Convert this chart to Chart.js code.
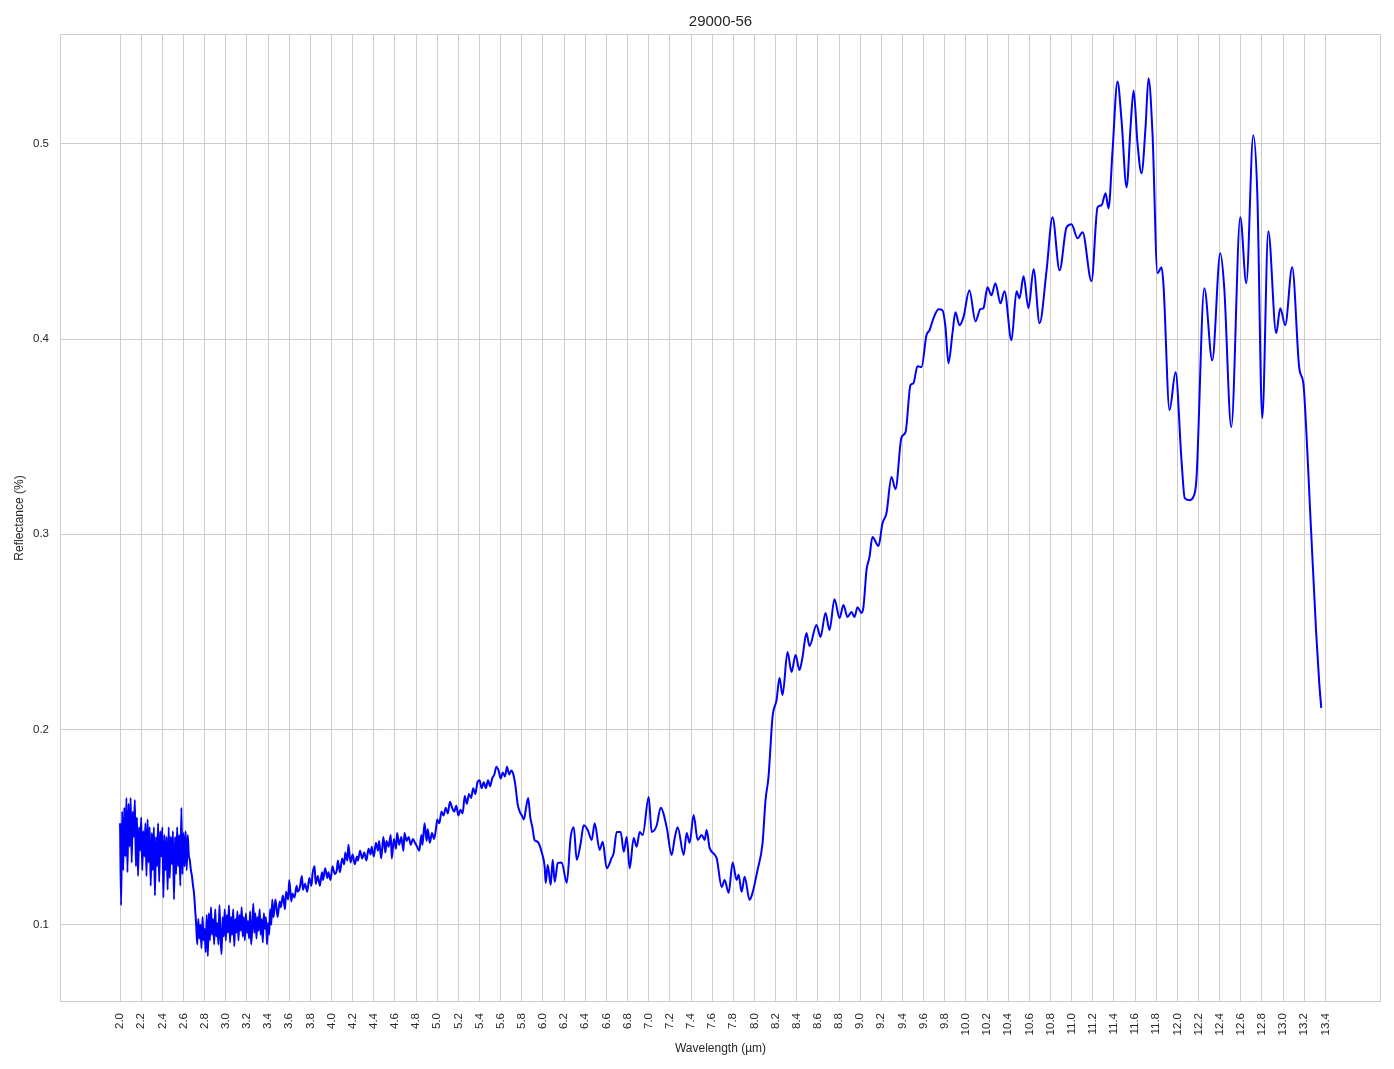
<!DOCTYPE html>
<html>
<head>
<meta charset="utf-8">
<script src="https://cdn.jsdelivr.net/npm/chart.js@4/dist/chart.umd.min.js"></script>
<style>
  html, body { margin: 0; padding: 0; background: #ffffff; }
  #wrap { width: 1394px; height: 1069px; }
</style>
</head>
<body>
<div id="wrap"><canvas id="chart" width="1394" height="1069"></canvas></div>
<script>
// [wavelength µm, reflectance]
let shortwave = [
    [2.00,0.152],[2.01,0.110],[2.02,0.158],[2.03,0.128],[2.04,0.160],[2.05,0.135],[2.06,0.165],[2.07,0.127],[2.08,0.162],[2.09,0.140],
    [2.10,0.165],[2.11,0.132],[2.12,0.158],[2.13,0.145],[2.14,0.164],[2.15,0.130],[2.16,0.155],[2.17,0.125],[2.18,0.150],[2.19,0.138],
    [2.20,0.155],[2.21,0.128],[2.22,0.148],[2.23,0.135],[2.24,0.152],[2.25,0.125],[2.26,0.154],[2.27,0.132],[2.28,0.150],[2.29,0.120],
    [2.30,0.147],[2.31,0.128],[2.32,0.150],[2.33,0.115],[2.34,0.145],[2.35,0.130],[2.36,0.152],[2.37,0.122],[2.38,0.148],[2.39,0.135],
    [2.40,0.150],[2.41,0.114],[2.42,0.146],[2.43,0.128],[2.44,0.145],[2.45,0.118],[2.46,0.150],[2.47,0.124],[2.48,0.145],[2.49,0.131],
    [2.50,0.148],[2.51,0.113],[2.52,0.145],[2.53,0.126],[2.54,0.150],[2.55,0.130],[2.56,0.146],[2.57,0.120],[2.58,0.160],[2.59,0.126],
    [2.60,0.147],[2.61,0.130],[2.62,0.148],[2.63,0.128],[2.64,0.146],[2.65,0.136],[2.66,0.133],[2.67,0.128],[2.68,0.125],[2.69,0.120],
    [2.70,0.116],[2.71,0.108],[2.72,0.100],
    [2.73,0.090],[2.74,0.103],[2.75,0.093],[2.76,0.100],[2.77,0.088],[2.78,0.104],[2.79,0.092],[2.80,0.098],[2.81,0.086],[2.82,0.105],
    [2.83,0.084],[2.84,0.106],[2.85,0.092],[2.86,0.109],[2.87,0.095],[2.88,0.103],[2.89,0.090],[2.90,0.108],[2.91,0.094],[2.92,0.101],
    [2.93,0.090],[2.94,0.110],[2.95,0.093],[2.96,0.085],[2.97,0.104],[2.98,0.094],[2.99,0.108],[3.00,0.092],[3.01,0.105],[3.02,0.096],
    [3.03,0.110],[3.04,0.091],[3.05,0.104],[3.06,0.095],[3.07,0.108],[3.08,0.089],[3.09,0.103],[3.10,0.096],[3.11,0.107],[3.12,0.092],
    [3.13,0.105],[3.14,0.097],[3.15,0.109],[3.16,0.094],[3.17,0.104],[3.18,0.092],[3.19,0.106],[3.20,0.096],[3.21,0.102],[3.22,0.093],
    [3.23,0.107],[3.24,0.090],[3.25,0.098],[3.26,0.111],[3.27,0.096],[3.28,0.106],[3.29,0.093],[3.30,0.104],[3.31,0.097],[3.32,0.108],
    [3.33,0.095],[3.34,0.103],[3.35,0.091],[3.36,0.106],[3.37,0.098],[3.38,0.104],[3.39,0.090],[3.40,0.101],[3.41,0.095],[3.42,0.108],
    [3.43,0.100],[3.44,0.113],[3.45,0.104]
];

let midwave = [
    [3.46,0.108],[3.47,0.113],[3.49,0.104],[3.51,0.112],[3.52,0.109],[3.54,0.115],[3.56,0.108],[3.57,0.117],[3.59,0.113],[3.60,0.123],
    [3.62,0.112],[3.63,0.116],[3.65,0.114],[3.67,0.120],[3.68,0.117],[3.70,0.119],[3.72,0.125],[3.73,0.118],[3.75,0.121],[3.77,0.117],
    [3.79,0.124],[3.81,0.120],[3.82,0.126],[3.84,0.130],[3.85,0.121],[3.87,0.125],[3.89,0.120],[3.91,0.127],[3.92,0.123],[3.94,0.129],
    [3.96,0.124],[3.97,0.127],[3.99,0.123],[4.01,0.130],[4.03,0.126],[4.05,0.128],[4.06,0.133],[4.08,0.127],[4.10,0.134],[4.12,0.131],
    [4.13,0.137],[4.15,0.133],[4.16,0.141],[4.18,0.132],[4.20,0.136],[4.22,0.131],[4.24,0.135],[4.25,0.133],[4.27,0.138],[4.29,0.134],
    [4.31,0.137],[4.33,0.133],[4.35,0.139],[4.37,0.136],[4.38,0.140],[4.40,0.135],[4.42,0.142],[4.44,0.138],[4.45,0.143],[4.47,0.134],
    [4.49,0.145],[4.51,0.137],[4.52,0.143],[4.54,0.140],[4.56,0.146],[4.57,0.134],[4.59,0.144],[4.61,0.139],[4.62,0.147],[4.64,0.141],
    [4.66,0.145],[4.68,0.138],[4.69,0.147],[4.71,0.143],[4.73,0.145],[4.75,0.141],[4.77,0.144],[4.79,0.142],[4.81,0.140],[4.83,0.138],
    [4.85,0.146],[4.86,0.141],[4.88,0.152],[4.90,0.143],[4.91,0.149],[4.93,0.142],[4.95,0.147],[4.97,0.144],[4.99,0.150],[5.00,0.154],
    [5.02,0.152],[5.04,0.158],[5.06,0.156],[5.08,0.160],[5.10,0.157],[5.12,0.163],[5.14,0.160],[5.16,0.158],[5.18,0.161],[5.20,0.156],
    [5.22,0.159],[5.24,0.157],[5.26,0.166],[5.28,0.162],[5.30,0.167],[5.32,0.165],[5.34,0.170],[5.36,0.167],[5.38,0.173],[5.40,0.174],
    [5.42,0.170],[5.44,0.173],[5.46,0.170],[5.48,0.174],[5.50,0.171],[5.52,0.175],[5.54,0.177],[5.56,0.181],[5.58,0.179],[5.60,0.175],
    [5.62,0.178],[5.64,0.176],[5.66,0.181],[5.68,0.177],[5.70,0.179],[5.72,0.177],[5.74,0.171],[5.76,0.162],[5.78,0.158],[5.80,0.156],
    [5.82,0.154],[5.84,0.160],[5.86,0.165],[5.88,0.155],[5.90,0.150]
];

let longwave = [
    [5.92,0.1435],[5.95,0.1425],[5.99,0.1368],[6.016,0.1297],[6.026,0.1215],[6.045,0.1307],[6.073,0.1205],[6.092,0.1333],[6.111,0.122],[6.14,0.1317],
    [6.177,0.132],[6.225,0.1215],[6.262,0.145],[6.291,0.150],[6.319,0.1333],[6.357,0.142],[6.385,0.151],[6.423,0.1486],[6.461,0.1435],[6.489,0.152],
    [6.536,0.1384],[6.565,0.1425],[6.603,0.129],[6.65,0.1343],[6.669,0.1368],[6.697,0.1476],[6.735,0.1476],[6.764,0.1374],[6.792,0.145],[6.82,0.129],
    [6.858,0.1445],[6.886,0.140],[6.915,0.1476],[6.943,0.146],[7.0,0.1655],[7.028,0.1476],[7.076,0.151],[7.113,0.160],[7.17,0.150],[7.217,0.1358],
    [7.246,0.1445],[7.274,0.150],[7.331,0.1358],[7.359,0.147],[7.387,0.142],[7.425,0.1563],[7.463,0.1435],[7.501,0.146],[7.529,0.1435],[7.548,0.1486],
    [7.576,0.1394],[7.642,0.1343],[7.69,0.1194],[7.718,0.123],[7.756,0.1164],[7.794,0.132],[7.831,0.123],[7.85,0.1256],[7.879,0.1169],[7.907,0.1246],
    [7.954,0.1128],[7.982,0.1164],[8.029,0.128],[8.077,0.142],[8.105,0.164],[8.133,0.1757],[8.171,0.2064],[8.209,0.2151],[8.237,0.2264],[8.266,0.2177],
    [8.313,0.2397],[8.351,0.2295],[8.389,0.2382],[8.426,0.2305],[8.455,0.2372],[8.492,0.2494],[8.521,0.2428],[8.587,0.2535],[8.625,0.2474],[8.672,0.2597],
    [8.71,0.251],[8.757,0.2668],[8.805,0.2571],[8.842,0.2638],[8.88,0.2576],[8.918,0.2602],[8.946,0.2576],[8.975,0.2627],[9.013,0.2597],[9.031,0.2627],
    [9.06,0.2817],[9.088,0.2883],[9.116,0.2986],[9.173,0.294],[9.211,0.3057],[9.249,0.3109],[9.296,0.3293],[9.334,0.3231],[9.391,0.3497],[9.429,0.3523],
    [9.476,0.3764],[9.504,0.3774],[9.542,0.3861],[9.58,0.3856],[9.627,0.4019],[9.656,0.4045],[9.693,0.4106],[9.741,0.4153],[9.778,0.4147],[9.807,0.406],
    [9.835,0.3876],[9.873,0.403],[9.901,0.4137],[9.939,0.4071],[9.977,0.4112],[10.033,0.425],[10.09,0.4091],[10.137,0.4153],[10.166,0.4158],[10.204,0.4265],
    [10.241,0.4224],[10.279,0.4286],[10.327,0.4183],[10.365,0.4245],[10.431,0.3994],[10.479,0.4245],[10.507,0.4209],[10.545,0.4321],[10.592,0.4158],[10.64,0.4357],
    [10.697,0.4081],[10.763,0.4352],[10.819,0.4623],[10.886,0.4352],[10.952,0.4572],[10.999,0.4588],[11.056,0.4516],[11.103,0.4547],[11.188,0.4296],[11.245,0.4674],
    [11.283,0.4685],[11.321,0.4746],[11.349,0.4669],[11.387,0.4966],[11.434,0.5319],[11.472,0.512],[11.52,0.4777],[11.557,0.5084],[11.586,0.5273],[11.623,0.5002],
    [11.661,0.4849],[11.699,0.5084],[11.727,0.5335],[11.765,0.505],[11.812,0.4337],[11.85,0.4367],[11.869,0.4275],[11.926,0.3636],[11.983,0.383],[12.039,0.338],
    [12.07,0.3185],[12.115,0.3175],[12.15,0.319],[12.18,0.328],[12.255,0.426],[12.33,0.3891],[12.406,0.4439],[12.443,0.4265],[12.51,0.3549],[12.595,0.4623],
    [12.652,0.4286],[12.718,0.5043],[12.756,0.4746],[12.803,0.3595],[12.86,0.4552],[12.935,0.403],[12.973,0.4158],[13.02,0.4071],[13.086,0.4367],[13.152,0.3856],
    [13.19,0.3779],[13.2,0.372],[13.266,0.3006],[13.313,0.2494],[13.342,0.2238],[13.361,0.2111]
];

let xTicks = [2.0, 2.2, 2.4, 2.6, 2.8, 3.0, 3.2, 3.4, 3.6, 3.8, 4.0, 4.2, 4.4, 4.6, 4.8, 5.0, 5.2, 5.4, 5.6, 5.8,
    6.0, 6.2, 6.4, 6.6, 6.8, 7.0, 7.2, 7.4, 7.6, 7.8, 8.0, 8.2, 8.4, 8.6, 8.8, 9.0, 9.2, 9.4, 9.6, 9.8,
    10.0, 10.2, 10.4, 10.6, 10.8, 11.0, 11.2, 11.4, 11.6, 11.8, 12.0, 12.2, 12.4, 12.6, 12.8, 13.0, 13.2, 13.4];
let yTicks = [0.1, 0.2, 0.3, 0.4, 0.5];

let textColor = "#262626";
let gridColor = "#cccccc";
let fontFamily = "'Liberation Sans', Arial, sans-serif";

let spectrum = shortwave.concat(midwave, longwave).map(p => ({ x: p[0], y: p[1] }));

// matplotlib-like box around the plot area
let frame = {
    id: "frame",
    beforeDatasetsDraw(chart) {
        let a = chart.chartArea;
        let ctx = chart.ctx;
        ctx.save();
        ctx.strokeStyle = gridColor;
        ctx.lineWidth = 1;
        ctx.strokeRect(Math.round(a.left) + 0.5, Math.round(a.top) + 0.5,
            Math.round(a.right - a.left) - 1, Math.round(a.bottom - a.top) - 1);
        ctx.restore();
    }
};

let chart = new Chart(document.getElementById("chart").getContext("2d"), {
    type: "line",
    data: {
        datasets: [{
            label: "29000-56",
            data: spectrum,
            borderColor: "#0000ff",
            backgroundColor: "#0000ff",
            borderWidth: 2,
            pointRadius: 0,
            cubicInterpolationMode: "monotone",
            fill: false
        }]
    },
    options: {
        responsive: false,
        animation: false,
        events: [],
        layout: { padding: { left: 0, right: 13, top: 0, bottom: 0 } },
        plugins: {
            legend: { display: false },
            tooltip: { enabled: false },
            title: {
                display: true,
                fullSize: false,
                text: "29000-56",
                color: textColor,
                font: { family: fontFamily, size: 15, weight: "normal" },
                padding: { top: 13, bottom: 3 }
            }
        },
        scales: {
            x: {
                type: "linear",
                min: 1.432,
                max: 13.926,
                afterBuildTicks: s => { s.ticks = xTicks.map(v => ({ value: v })); },
                afterFit: s => { s.height = 67; },
                ticks: {
                    autoSkip: false,
                    minRotation: 90,
                    maxRotation: 90,
                    padding: 11,
                    color: textColor,
                    font: { family: fontFamily, size: 11.5 },
                    callback: v => v.toFixed(1)
                },
                grid: { color: gridColor, lineWidth: 1, drawTicks: false },
                border: { display: false },
                title: {
                    display: true,
                    text: "Wavelength (µm)",
                    color: textColor,
                    font: { family: fontFamily, size: 12 },
                    padding: { top: 0, bottom: 13 }
                }
            },
            y: {
                type: "linear",
                min: 0.0605,
                max: 0.5562,
                afterBuildTicks: s => { s.ticks = yTicks.map(v => ({ value: v })); },
                afterFit: s => { s.width = 60; },
                ticks: {
                    padding: 11,
                    color: textColor,
                    font: { family: fontFamily, size: 11.5 },
                    callback: v => v.toFixed(1)
                },
                grid: { color: gridColor, lineWidth: 1, drawTicks: false },
                border: { display: false },
                title: {
                    display: true,
                    text: "Reflectance (%)",
                    color: textColor,
                    font: { family: fontFamily, size: 12 },
                    padding: { top: 12, bottom: 0 }
                }
            }
        }
    },
    plugins: [frame]
});
</script>
</body>
</html>
